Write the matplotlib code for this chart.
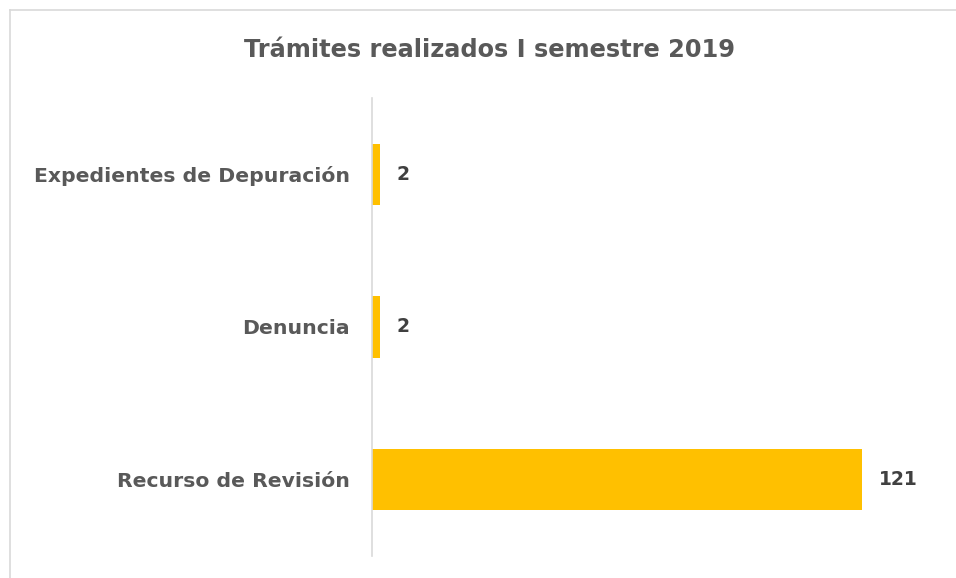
import matplotlib
matplotlib.use("Agg")
import matplotlib.pyplot as plt
from matplotlib.lines import Line2D

categories = ["Recurso de Revisión", "Denuncia", "Expedientes de Depuración"]
values = [121, 2, 2]
title = "Trámites realizados I semestre 2019"

plt.rcParams['font.family'] = ['DejaVu Sans']

fig = plt.figure(figsize=(9.56, 5.78), dpi=100)
ax = fig.add_axes([372/956, 1-556/578, (939-372)/956, (556-98)/578])

y = list(range(len(categories)))
ax.barh(y, values, height=0.4, color="#FFC000")
ax.set_ylim(-0.5, len(categories)-0.5)
ax.set_xlim(0, 140)
ax.set_yticks(y)
ax.set_yticklabels(categories, fontsize=14.7, fontweight='bold', color="#595959")
ax.tick_params(axis='y', length=0, pad=16)
ax.set_xticks([])
for s in ['top', 'right', 'bottom']:
    ax.spines[s].set_visible(False)
ax.spines['left'].set_color("#D9D9D9")
ax.spines['left'].set_linewidth(1.2)

for yi, v in zip(y, values):
    ax.annotate(str(v), (v, yi), xytext=(12, 0), textcoords='offset points',
                va='center', ha='left', fontsize=13.5, fontweight='bold', color="#404040")

fig.text(490/956, 1-50/578, title, ha='center', va='center', fontsize=17.3,
         fontweight='bold', color="#595959")

# chart area border (left and top visible)
fig.add_artist(Line2D([9.5/956, 9.5/956], [0, 1-10/578], transform=fig.transFigure,
                      color="#D9D9D9", linewidth=1.2))
fig.add_artist(Line2D([9.5/956, 1], [1-10/578, 1-10/578], transform=fig.transFigure,
                      color="#D9D9D9", linewidth=1.2))

fig.savefig("out.png", dpi=100)
